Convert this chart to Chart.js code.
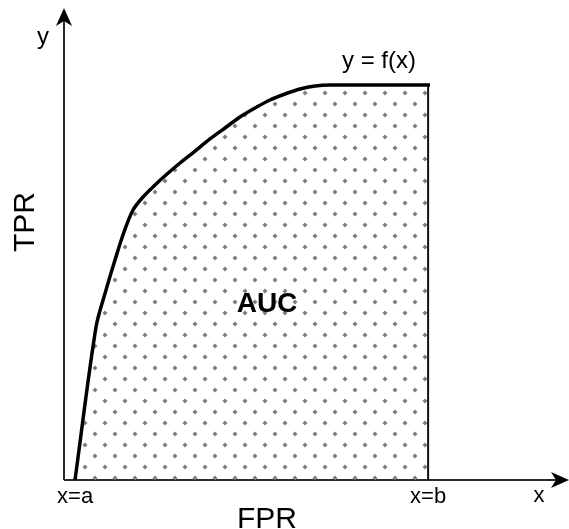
<!DOCTYPE html>
<html>
<head>
<meta charset="utf-8">
<script src="https://cdn.jsdelivr.net/npm/chart.js@4"></script>
<style>
  html, body { margin: 0; padding: 0; background: #ffffff; }
  canvas { display: block; }
</style>
</head>
<body>
<canvas id="c" width="569" height="529"></canvas>
<script>
// ---- data (schematic units: x 0..100, y 0..100) ----
const curveX = [2.18, 6.34, 8.32, 10.10, 11.88, 13.66, 15.64, 18.02, 20.40, 22.97, 25.94, 28.91, 31.88, 34.85, 37.82, 40.79, 43.76, 46.73, 49.70, 52.67, 72.48];
const curveY = [0, 32.42, 40.25, 46.61, 52.54, 57.20, 59.96, 62.50, 64.83, 67.16, 69.70, 72.25, 74.58, 76.91, 78.81, 80.51, 81.78, 82.84, 83.47, 83.69, 83.69];
const boundA = 2.2;      // x = a
const boundB = 72.1;     // x = b
const topY = 83.69;      // f(b)
const axisMaxX = 100;
const axisMaxY = 100;
const labels = { a: 'x=a', b: 'x=b', x: 'x', y: 'y', fx: 'y = f(x)', area: 'AUC', xTitle: 'FPR', yTitle: 'TPR' };

// dotted fill pattern
function makePattern() {
  const p = document.createElement('canvas');
  p.width = 20; p.height = 22;
  const g = p.getContext('2d');
  g.fillStyle = '#7e7e7e';
  function dot(x, y) {
    g.beginPath();
    g.moveTo(x, y - 2.5); g.lineTo(x + 2.5, y); g.lineTo(x, y + 2.5); g.lineTo(x - 2.5, y);
    g.closePath(); g.fill();
  }
  dot(5, 5); dot(15, 16);
  return g.createPattern(p, 'repeat');
}

const curveData = curveX.map((x, i) => ({ x: x, y: curveY[i] }));

const annot = {
  id: 'annot',
  beforeDatasetsDraw(chart) {
    const ctx = chart.ctx, xs = chart.scales.x, ys = chart.scales.y;
    const x0 = xs.getPixelForValue(0), y0 = ys.getPixelForValue(0);
    const xE = xs.getPixelForValue(axisMaxX), yE = ys.getPixelForValue(axisMaxY);
    ctx.save();
    ctx.strokeStyle = '#2b2b2b';
    ctx.lineWidth = 2;
    ctx.beginPath();
    ctx.moveTo(x0, y0); ctx.lineTo(x0, yE + 12);
    ctx.moveTo(x0, y0); ctx.lineTo(xE - 12, y0);
    ctx.stroke();
    ctx.fillStyle = '#000';
    // y arrow
    ctx.beginPath();
    ctx.moveTo(x0, yE); ctx.lineTo(x0 + 8, yE + 18); ctx.lineTo(x0, yE + 13); ctx.lineTo(x0 - 8, yE + 18);
    ctx.closePath(); ctx.fill();
    // x arrow
    ctx.beginPath();
    ctx.moveTo(xE, y0); ctx.lineTo(xE - 18, y0 - 8); ctx.lineTo(xE - 13, y0); ctx.lineTo(xE - 18, y0 + 8);
    ctx.closePath(); ctx.fill();
    ctx.restore();
  },
  afterDatasetsDraw(chart) {
    const ctx = chart.ctx, xs = chart.scales.x, ys = chart.scales.y;
    const y0 = ys.getPixelForValue(0);
    ctx.save();
    ctx.fillStyle = '#000';
    ctx.textAlign = 'center';
    ctx.textBaseline = 'alphabetic';
    ctx.font = '22px "Liberation Sans", Arial, sans-serif';
    ctx.fillText(labels.a, xs.getPixelForValue(boundA), y0 + 23);
    ctx.fillText(labels.b, xs.getPixelForValue(boundB), y0 + 23);
    ctx.fillText(labels.x, 539, y0 + 22);
    ctx.font = '24px "Liberation Sans", Arial, sans-serif';
    ctx.fillText(labels.y, 43, 44);
    ctx.fillText(labels.fx, 379, 68);
    ctx.font = 'bold 28px "Liberation Sans", Arial, sans-serif';
    ctx.fillText(labels.area, 267, 312);
    ctx.font = '30px "Liberation Sans", Arial, sans-serif';
    ctx.fillText(labels.xTitle, 267, 528);
    ctx.save();
    ctx.translate(34, 222);
    ctx.rotate(-Math.PI / 2);
    ctx.fillText(labels.yTitle, 0, 0);
    ctx.restore();
    ctx.restore();
  }
};

new Chart(document.getElementById('c'), {
  type: 'scatter',
  data: {
    datasets: [
      {
        data: curveData,
        showLine: true,
        borderColor: '#000',
        borderWidth: 3.5,
        backgroundColor: makePattern(),
        fill: 'origin',
        pointRadius: 0,
        tension: 0.3,
        clip: 10
      },
      {
        data: [{ x: boundB, y: 0 }, { x: boundB, y: topY }],
        showLine: true,
        borderColor: '#111',
        borderWidth: 2,
        pointRadius: 0,
        fill: false,
        clip: 10
      }
    ]
  },
  options: {
    responsive: false,
    animation: false,
    devicePixelRatio: 1,
    layout: { padding: { left: 64, right: 0, top: 8, bottom: 49 } },
    plugins: { legend: { display: false }, tooltip: { enabled: false } },
    scales: {
      x: { type: 'linear', min: 0, max: axisMaxX, display: false },
      y: { type: 'linear', min: 0, max: axisMaxY, display: false }
    }
  },
  plugins: [annot]
});
</script>
</body>
</html>
